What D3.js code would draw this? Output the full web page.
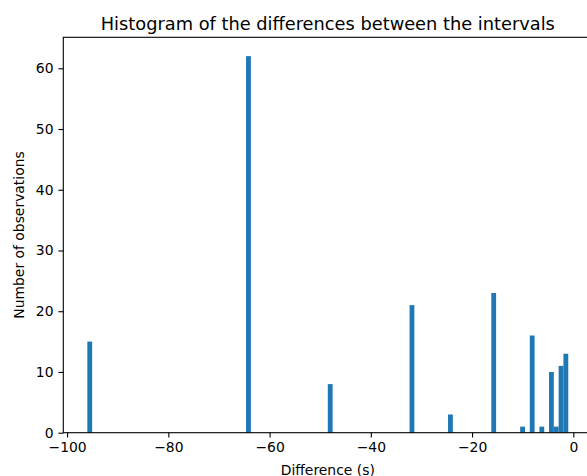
<!DOCTYPE html>
<html>
<head>
<meta charset="utf-8">
<script src="https://cdn.jsdelivr.net/npm/d3@7"></script>
<style>
  body { margin: 0; background: #fff; }
  svg { display: block; font-family: "DejaVu Sans", sans-serif; }
</style>
</head>
<body>
<svg id="chart" width="587" height="476"></svg>
<script>
// observed differences (s) and how many times each one shows up
const diffValues = [-96, -64, -48, -32, -24, -16, -10, -8, -6, -4, -3, -2, -1];
const diffCounts = [15, 62, 8, 21, 3, 23, 1, 16, 1, 10, 1, 11, 13];
const xTicks = [-100, -80, -60, -40, -20, 0];
const yTicks = [0, 10, 20, 30, 40, 50, 60];
const nBins = 100;

// expand into raw observations, like the array fed to plt.hist
const observations = [];
diffValues.forEach((v, i) => {
    for (let k = 0; k < diffCounts[i]; k++) observations.push(v);
});

const lo = d3.min(observations), hi = d3.max(observations);
const step = (hi - lo) / nBins;
const bins = d3.bin()
    .domain([lo, hi])
    .thresholds(d3.range(1, nBins).map(k => lo + k * step))(observations);

// axes box (right side falls outside the picture, like the original)
const boxL = 63.3, boxR = 592.3, boxT = 37.3, boxB = 432.7;
const pad = (hi - lo) * 0.05;
const x = d3.scaleLinear().domain([lo - pad, hi + pad]).range([boxL, boxR]);
const yMax = d3.max(bins, b => b.length) * 1.05;
const y = d3.scaleLinear().domain([0, yMax]).range([boxB, boxT]);

const svg = d3.select('#chart');

svg.append('g')
    .selectAll('rect')
    .data(bins.filter(b => b.length > 0))
    .enter()
    .append('rect')
    .attr('x', d => x(d.x0))
    .attr('y', d => y(d.length))
    .attr('width', d => x(d.x1) - x(d.x0))
    .attr('height', d => y(0) - y(d.length))
    .attr('fill', '#1f77b4');

// x axis
const xAxis = svg.append('g')
    .attr('transform', `translate(0,${boxB})`)
    .call(d3.axisBottom(x).tickValues(xTicks).tickSize(4.9).tickPadding(4.9).tickSizeOuter(0));
xAxis.select('.domain').remove();

// y axis
const yAxis = svg.append('g')
    .attr('transform', `translate(${boxL},0)`)
    .call(d3.axisLeft(y).tickValues(yTicks).tickSize(4.9).tickPadding(4.9).tickSizeOuter(0));
yAxis.select('.domain').remove();

[xAxis, yAxis].forEach(g => {
    g.selectAll('line').attr('stroke', '#000').attr('stroke-width', 1.1);
    g.selectAll('text').attr('fill', '#000').style('font-size', '13.9px')
        .style('font-family', '"DejaVu Sans", sans-serif');
});

// spines
svg.append('rect')
    .attr('x', boxL).attr('y', boxT)
    .attr('width', boxR - boxL).attr('height', boxB - boxT)
    .attr('fill', 'none')
    .attr('stroke', '#000')
    .attr('stroke-width', 1.1);

// title and labels
svg.append('text')
    .attr('x', (boxL + boxR) / 2)
    .attr('y', 29.5)
    .attr('text-anchor', 'middle')
    .style('font-size', '17.8px')
    .text('Histogram of the differences between the intervals');

svg.append('text')
    .attr('x', (boxL + boxR) / 2)
    .attr('y', 475)
    .attr('text-anchor', 'middle')
    .style('font-size', '13.9px')
    .text('Difference (s)');

svg.append('text')
    .attr('transform', `translate(24,${(boxT + boxB) / 2}) rotate(-90)`)
    .attr('text-anchor', 'middle')
    .style('font-size', '13.9px')
    .text('Number of observations');
</script>
</body>
</html>
